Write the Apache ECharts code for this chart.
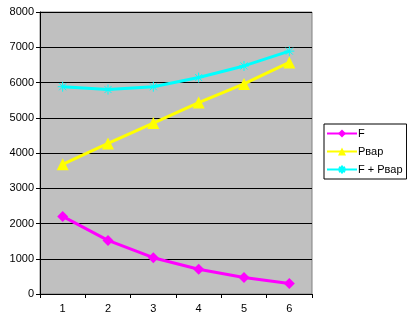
<!DOCTYPE html>
<html><head><meta charset="utf-8">
<script src="https://cdn.jsdelivr.net/npm/echarts@6/dist/echarts.min.js"></script>
<style>html,body{margin:0;padding:0;background:#fff}#c{width:407px;height:320px}</style>
</head><body><div id="c"></div>
<script>
var categories = ['1','2','3','4','5','6'];
var seriesNames = ['F','Рвар','F + Рвар'];
var F = [2200, 1520, 1030, 700, 470, 300];
var Pvar = [3680, 4270, 4850, 5430, 5960, 6570];
var FPvar = [5880, 5800, 5880, 6140, 6470, 6890];
var yTicks = {min: 0, max: 8000, interval: 1000};

var star = 'path://M0 5 L10 5 M5 0 L5 10 M1.5 1.5 L8.5 8.5 M8.5 1.5 L1.5 8.5';
var font = 'Liberation Sans';
var chart = echarts.init(document.getElementById('c'), null, {renderer: 'canvas'});
chart.setOption({
  animation: false,
  backgroundColor: '#fff',
  textStyle: {fontFamily: font},
  grid: {left: 40, top: 12, right: 95, bottom: 26, show: true, backgroundColor: '#C0C0C0', borderColor: '#808080', borderWidth: 1},
  legend: {
    orient: 'vertical', left: 324, top: 124, width: 78,
    padding: [4, 4, 4, 2], itemGap: 7, itemWidth: 30, itemHeight: 10,
    borderColor: '#000', borderWidth: 1, backgroundColor: '#fff',
    textStyle: {fontFamily: font, fontSize: 11, color: '#000', padding: [0,0,0,-4]},
    data: seriesNames
  },
  xAxis: {
    type: 'category', data: categories, boundaryGap: true,
    axisLine: {lineStyle: {color: '#000', width: 1}},
    axisTick: {show: true, length: 4, lineStyle: {color: '#000'}},
    axisLabel: {color: '#000', fontSize: 11, fontFamily: font, margin: 9},
    splitLine: {show: false}
  },
  yAxis: {
    type: 'value', min: yTicks.min, max: yTicks.max, interval: yTicks.interval,
    axisLine: {show: true, lineStyle: {color: '#000', width: 1}},
    axisTick: {show: true, length: 4, inside: false, lineStyle: {color: '#000'}},
    axisLabel: {color: '#000', fontSize: 11, fontFamily: font, margin: 6, formatter: function (v) { return String(v); }},
    splitLine: {show: true, lineStyle: {color: '#000', width: 1}}
  },
  series: [
    {name: seriesNames[0], type: 'line', data: F, color: '#FF00FF', symbol: 'diamond', symbolSize: 11,
      lineStyle: {width: 3, color: '#FF00FF'}, itemStyle: {color: '#FF00FF'}},
    {name: seriesNames[1], type: 'line', data: Pvar, color: '#FFFF00', symbol: 'triangle', symbolSize: 12,
      lineStyle: {width: 3, color: '#FFFF00'}, itemStyle: {color: '#FFFF00'}},
    {name: seriesNames[2], type: 'line', data: FPvar, color: '#00FFFF', symbol: star, symbolSize: 10,
      lineStyle: {width: 3, color: '#00FFFF'}, itemStyle: {color: '#00FFFF', borderColor: '#00FFFF', borderWidth: 1}}
  ]
});
</script></body></html>
